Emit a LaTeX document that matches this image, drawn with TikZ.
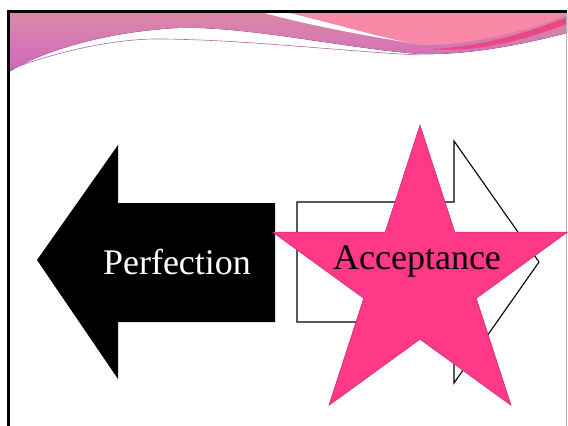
\documentclass[tikz,border=0pt]{standalone}
\usepackage{fontspec}
\setmainfont{Liberation Serif}
\usetikzlibrary{shapes.geometric}

\definecolor{bandtop}{RGB}{220,136,166}
\definecolor{bandlow}{RGB}{206,104,192}
\definecolor{salmon}{RGB}{248,138,168}
\definecolor{rosered}{RGB}{233,72,128}
\definecolor{wisp}{RGB}{176,104,170}
\definecolor{hotpink}{RGB}{255,56,136}
\definecolor{starrim}{RGB}{196,40,110}

\begin{document}
\begin{tikzpicture}[
  x=1pt, y=-1pt,
  band/.style={top color=bandtop, bottom color=bandlow},
  leftarr/.style={fill=black},
  rightarr/.style={draw=black, line width=1.1pt, fill=white, line join=miter},
  starshape/.style={star, star points=5, star point ratio=2.618, inner sep=0pt,
                    minimum size=310pt, fill=hotpink, draw=starrim, line width=0.5pt},
  word/.style={font=\fontsize{36}{40}\selectfont, inner sep=0pt}
]
\useasboundingbox (0,0) rectangle (568,426);
\fill[white] (0,0) rectangle (568,426);

% header swoosh
\fill[band] (9,13) -- (567,13) -- (567,33)
  .. controls (520,45) and (470,55) .. (420,54)
  .. controls (340,48) and (230,22) .. (163,29)
  .. controls (100,34) and (40,52) .. (9,72) -- cycle;
\fill[white] (264,13) -- (290,13) .. controls (340,25) and (390,40) .. (422,45)
  .. controls (380,38) and (320,28) .. (264,13) -- cycle;
\fill[salmon] (290,13) .. controls (340,25) and (390,40) .. (422,45)
  .. controls (470,46) and (530,30) .. (567,14) -- (567,13) -- cycle;
\fill[rosered] (432,49) .. controls (480,47) and (530,32) .. (567,17) -- (567,24)
  .. controls (530,38) and (480,53) .. (432,49) -- cycle;
\draw[wisp, line width=0.6pt] (9,70) .. controls (60,50) and (120,38) .. (163,39)
  .. controls (250,40) and (350,52) .. (420,55);

% slide frame
\draw[gray!60, line width=0.8pt] (566,12) -- (566,426);
\draw[line width=3pt] (8.5,426) -- (8.5,11.5) -- (567,11.5);

% left arrow
\fill[leftarr] (37,260) -- (118,145) -- (118,203) -- (275,203) -- (275,322)
  -- (118,322) -- (118,379) -- cycle;
\node[word, text=white] (perf) at (177,262) {Perfection};

% right arrow
\draw[rightarr] (297,202) -- (454,202) -- (454,141) -- (539,262) -- (454,383)
  -- (454,322) -- (297,322) -- cycle;

% star
\node[starshape] (star) at (420,280) {};
\node[word] (acc) at (417,261) {Acceptance};
\end{tikzpicture}
\end{document}
